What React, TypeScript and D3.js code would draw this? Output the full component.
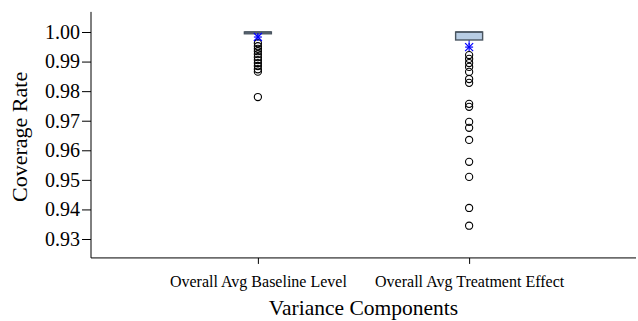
import React, { useEffect, useRef } from "react";
import * as d3 from "d3";

const categories = ["Overall Avg Baseline Level", "Overall Avg Treatment Effect"];
// box stats: q1, median, q3, whisker low, whisker high, mean
const q1 = [0.9994, 0.9973];
const median = [1.0, 1.0];
const q3 = [1.0, 1.0];
const whiskerLow = [0.9987, 0.9956];
const whiskerHigh = [1.0, 1.0];
const means = [0.9983, 0.9949];
const outliersBaseline = [0.9962, 0.9952, 0.9943, 0.9935, 0.9925, 0.9915, 0.9905, 0.9895, 0.9885, 0.9874, 0.9866, 0.978];
const outliersTreatment = [0.9922, 0.9909, 0.9895, 0.9882, 0.9865, 0.9841, 0.9828, 0.9757, 0.9747, 0.9696, 0.9676, 0.9635, 0.9561, 0.951, 0.9405, 0.9345];
const yTicks = [0.93, 0.94, 0.95, 0.96, 0.97, 0.98, 0.99, 1.0];

const App = () => {
  const ref = useRef<SVGSVGElement>(null);

  useEffect(() => {
    const svg = d3.select(ref.current);
    svg.selectAll("*").remove();
    const font = "'Liberation Serif', 'Times New Roman', serif";

    const y = d3.scaleLinear().domain([0.93, 1.0]).range([239, 32]);
    const x = d3.scalePoint().domain(categories).range([91, 636]).padding(0.79);
    const yTop = y(1.0068);
    const yBottom = y(0.9236);

    // y axis
    const ya = svg.append("g").attr("transform", "translate(91,0)")
      .call(d3.axisLeft(y).tickValues(yTicks).tickFormat(d3.format(".2f")).tickSize(9).tickSizeOuter(0).tickPadding(2));
    ya.attr("font-family", font).attr("font-size", 20);
    ya.select(".domain").remove();
    ya.selectAll("text").attr("fill", "#000");
    ya.selectAll("line").attr("stroke", "#000");
    svg.append("line").attr("x1", 91).attr("x2", 91).attr("y1", yTop).attr("y2", yBottom).attr("stroke", "#000");

    // x axis
    const xa = svg.append("g").attr("transform", `translate(0,${yBottom})`)
      .call(d3.axisBottom(x).tickSize(6).tickSizeOuter(0).tickPadding(12));
    xa.attr("font-family", font).attr("font-size", 16);
    xa.select(".domain").remove();
    xa.selectAll("text").attr("fill", "#000");
    xa.selectAll("line").attr("stroke", "#000");
    svg.append("line").attr("x1", 91).attr("x2", 636).attr("y1", yBottom).attr("y2", yBottom).attr("stroke", "#000");

    // titles
    svg.append("text").attr("transform", `translate(27,${(yTop + yBottom) / 2 + 2}) rotate(-90)`)
      .attr("text-anchor", "middle").attr("font-family", font).attr("font-size", 22).text("Coverage Rate");
    svg.append("text").attr("x", x(categories[0])! / 2 + x(categories[1])! / 2).attr("y", 315)
      .attr("text-anchor", "middle").attr("font-family", font).attr("font-size", 21.5).text("Variance Components");

    const boxW = 27;
    const outliers = [outliersBaseline, outliersTreatment];
    categories.forEach((c, i) => {
      const cx = x(c)!;
      const g = svg.append("g");
      // whiskers
      g.append("line").attr("x1", cx).attr("x2", cx).attr("y1", y(q1[i])).attr("y2", y(whiskerLow[i])).attr("stroke", "#0000ff");
      g.append("line").attr("x1", cx).attr("x2", cx).attr("y1", y(whiskerHigh[i])).attr("y2", y(q3[i])).attr("stroke", "#0000ff");
      // outliers
      g.selectAll("circle").data(outliers[i]).enter().append("circle")
        .attr("cx", cx).attr("cy", d => y(d)).attr("r", 3.6)
        .attr("fill", "none").attr("stroke", "#000").attr("stroke-width", 1.1);
      // box
      g.append("rect").attr("x", cx - boxW / 2).attr("width", boxW)
        .attr("y", y(q3[i])).attr("height", Math.max(y(q1[i]) - y(q3[i]), 1.5))
        .attr("fill", "#b8cde4").attr("stroke", "#4a5560").attr("stroke-width", 1.4);
      g.append("line").attr("x1", cx - boxW / 2).attr("x2", cx + boxW / 2)
        .attr("y1", y(median[i])).attr("y2", y(median[i])).attr("stroke", "#4a5560").attr("stroke-width", 1.4);
      // mean marker
      const my = y(means[i]);
      const s = 4;
      const star = g.append("g").attr("stroke", "#0000ff").attr("stroke-width", 1.2);
      star.append("line").attr("x1", cx - s).attr("x2", cx + s).attr("y1", my).attr("y2", my);
      star.append("line").attr("x1", cx - s).attr("x2", cx + s).attr("y1", my - s).attr("y2", my + s);
      star.append("line").attr("x1", cx - s).attr("x2", cx + s).attr("y1", my + s).attr("y2", my - s);
      star.append("line").attr("x1", cx).attr("x2", cx).attr("y1", my - s).attr("y2", my + s);
    });
  }, []);

  return (
    <svg ref={ref} width={638} height={321}
      style={{ position: "absolute", left: 0, top: 0, background: "#fff" }} />
  );
};

export default App;
